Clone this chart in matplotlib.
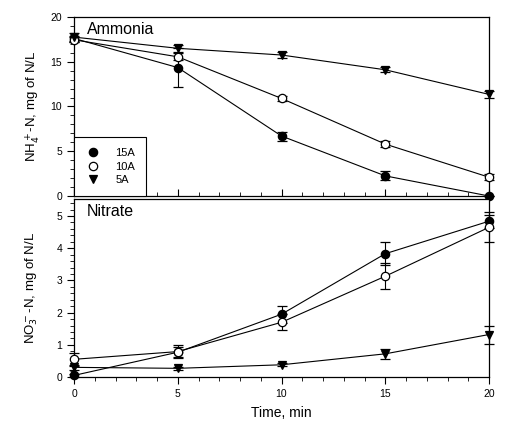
import matplotlib.pyplot as plt
from matplotlib.ticker import MultipleLocator
from matplotlib.lines import Line2D

plt.rcParams['font.family'] = ['Liberation Sans', 'DejaVu Sans']

# time points
time = [0, 5, 10, 15, 20]

# ammonia (NH4+-N), mg N/L
nh4_15a = [17.6, 14.35, 6.7, 2.25, 0.0]
nh4_15a_err = [0.3, 2.2, 0.5, 0.5, 0.0]
nh4_10a = [17.45, 15.55, 10.9, 5.8, 2.1]
nh4_10a_err = [0.3, 0.4, 0.3, 0.3, 0.35]
nh4_5a = [17.75, 16.5, 15.75, 14.1, 11.35]
nh4_5a_err = [0.5, 0.4, 0.3, 0.3, 0.35]

# nitrate (NO3--N), mg N/L
no3_15a = [0.05, 0.77, 1.95, 3.83, 4.84]
no3_15a_err = [0.05, 0.15, 0.27, 0.35, 0.2]
no3_10a = [0.55, 0.79, 1.7, 3.13, 4.65]
no3_10a_err = [0.2, 0.2, 0.25, 0.4, 0.47]
no3_5a = [0.3, 0.27, 0.38, 0.72, 1.32]
no3_5a_err = [0.08, 0.05, 0.05, 0.15, 0.28]

labels = ['15A', '10A', '5A']

fig = plt.figure(figsize=(5.22, 4.24), dpi=100)
ax1 = fig.add_axes([0.1418, 0.5377, 0.795, 0.4223])
ax2 = fig.add_axes([0.1418, 0.1108, 0.795, 0.4199])

styles = [dict(marker='o', mfc='black'),
          dict(marker='o', mfc='white'),
          dict(marker='v', mfc='black')]

def draw(ax, series):
    for (y, e), st in zip(series, styles):
        ax.errorbar(time, y, yerr=e, color='black', lw=0.8, elinewidth=0.8,
                    capsize=3.5, capthick=0.8, marker=st['marker'], ms=6,
                    mfc=st['mfc'], mec='black', mew=0.9, clip_on=False, zorder=3)

draw(ax1, [(nh4_15a, nh4_15a_err), (nh4_10a, nh4_10a_err), (nh4_5a, nh4_5a_err)])
draw(ax2, [(no3_15a, no3_15a_err), (no3_10a, no3_10a_err), (no3_5a, no3_5a_err)])

for ax in (ax1, ax2):
    ax.set_xlim(0, 20)
    ax.xaxis.set_major_locator(MultipleLocator(5))
    ax.xaxis.set_minor_locator(MultipleLocator(1))
    for s in ax.spines.values():
        s.set_linewidth(0.9)
    ax.tick_params(labelsize=7.5, width=0.8)

ax1.set_ylim(0, 20)
ax1.yaxis.set_major_locator(MultipleLocator(5))
ax1.yaxis.set_minor_locator(MultipleLocator(1))
ax1.tick_params(axis='x', which='both', direction='in', labelbottom=False)
ax1.tick_params(axis='x', which='major', length=5)
ax1.tick_params(axis='x', which='minor', length=3)
ax1.tick_params(axis='y', which='major', length=5)
ax1.tick_params(axis='y', which='minor', length=3)

ax2.set_ylim(0, 5.53)
ax2.yaxis.set_major_locator(MultipleLocator(1))
ax2.yaxis.set_minor_locator(MultipleLocator(0.2))
ax2.tick_params(which='major', length=5)
ax2.tick_params(which='minor', length=3)

ax1.set_ylabel('NH$_4^+$-N, mg of N/L', fontsize=9.5)
ax2.set_ylabel('NO$_3^-$-N, mg of N/L', fontsize=9.5)
ax1.yaxis.set_label_coords(-0.077, 0.5)
ax2.yaxis.set_label_coords(-0.082, 0.5)
ax2.set_xlabel('Time, min', fontsize=10, labelpad=5)

ax1.text(0.03, 0.97, 'Ammonia', transform=ax1.transAxes, fontsize=11.5, va='top')
ax2.text(0.03, 0.97, 'Nitrate', transform=ax2.transAxes, fontsize=11.5, va='top')

handles = [Line2D([], [], ls='none', marker=st['marker'], ms=6, mfc=st['mfc'],
                  mec='black', mew=0.9, color='black') for st in styles]
leg = ax1.legend(handles, labels, loc='lower left', bbox_to_anchor=(0, 0), fontsize=8,
                 frameon=True, fancybox=False, edgecolor='black', framealpha=1,
                 borderpad=1.0, handlelength=1.5, handletextpad=1.2,
                 labelspacing=0.3, borderaxespad=0)
leg.get_frame().set_linewidth(0.8)

fig.savefig('out.png', dpi=100)
